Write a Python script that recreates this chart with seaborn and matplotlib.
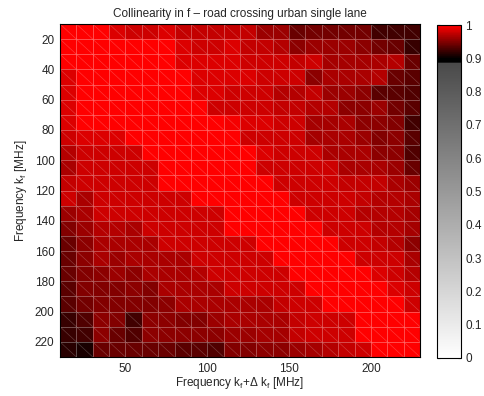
import numpy as np
import matplotlib
matplotlib.use("Agg")
import matplotlib.pyplot as plt
from matplotlib.colors import LinearSegmentedColormap
import seaborn as sns

# lower edge of each cell [MHz]
freq = list(range(10, 230, 10))

# collinearity, one row per k_f (top = 10 MHz), columns = k_f + delta k_f
r0 = [1.00, 1.00, 1.00, .985, .98, .98, .985, .975, .975, .975, .975, .975, .96, .96, .94, .945, .945, .945, .945, .925, .925, .925]
r1 = [1.00, 1.00, 1.00, 1.00, 1.00, 1.00, 1.00, .985, .98, .98, .985, .975, .975, .97, .955, .96, .96, .96, .955, .945, .94, .92]
r2 = [1.00, 1.00, 1.00, 1.00, 1.00, 1.00, 1.00, .985, .985, .985, .985, .98, .98, .98, .975, .98, .963, .963, .963, .965, .97, .94]
r3 = [.985, 1.00, 1.00, 1.00, 1.00, 1.00, 1.00, 1.00, .985, .985, .985, .985, .98, .98, .98, .955, .965, .965, .965, .97, .94, .935]
r4 = [.985, 1.00, 1.00, 1.00, 1.00, 1.00, 1.00, 1.00, .985, .985, .98, .98, .98, .97, .97, .975, .96, .96, .955, .935, .935, .93]
r5 = [.985, 1.00, 1.00, 1.00, 1.00, 1.00, 1.00, 1.00, 1.00, .98, .98, .98, .98, .975, .975, .97, .97, .955, .955, .96, .945, .935]
r6 = [.985, 1.00, 1.00, 1.00, 1.00, 1.00, 1.00, 1.00, 1.00, 1.00, .995, .985, .985, .98, .98, .963, .963, .965, .955, .955, .95, .925]
r7 = [.98, .985, .985, .985, 1.00, 1.00, 1.00, 1.00, 1.00, 1.00, 1.00, .98, .98, .98, .98, .963, .965, .965, .96, .95, .955, .935]
r8 = [.97, .98, .98, .98, .98, 1.00, 1.00, 1.00, 1.00, 1.00, 1.00, 1.00, .985, .98, .98, .98, .965, .965, .965, .955, .955, .93]
r9 = [.965, .98, .98, .98, .98, .98, 1.00, 1.00, 1.00, 1.00, 1.00, 1.00, .98, .98, .98, .98, .98, .965, .965, .965, .96, .94]
r10 = [.975, .98, .98, .98, .98, .98, 1.00, 1.00, 1.00, 1.00, 1.00, 1.00, 1.00, .98, .98, .98, .98, .975, .975, .975, .965, .96]
r11 = [.98, .965, .98, .98, .98, .98, .98, .98, 1.00, 1.00, 1.00, 1.00, 1.00, 1.00, .98, .98, .98, .98, .975, .97, .97, .965]
r12 = [.96, .965, .98, .98, .98, .98, .98, .98, .98, .98, 1.00, 1.00, 1.00, 1.00, 1.00, .98, .98, .98, .97, .97, .97, .963]
r13 = [.95, .96, .97, .97, .965, .98, .98, .98, .98, .98, 1.00, 1.00, 1.00, 1.00, 1.00, 1.00, .98, .98, .98, .97, .97, .963]
r14 = [.94, .955, .965, .965, .965, .965, .98, .98, .98, .98, .98, .98, 1.00, 1.00, 1.00, 1.00, 1.00, .98, .98, .975, .97, .955]
r15 = [.94, .955, .965, .96, .965, .965, .965, .965, .98, .98, .98, .98, .98, 1.00, 1.00, 1.00, 1.00, 1.00, .98, .98, .98, .965]
r16 = [.94, .95, .955, .96, .955, .965, .965, .965, .97, .98, .98, .98, .98, .98, 1.00, 1.00, 1.00, 1.00, 1.00, .985, .98, .97]
r17 = [.935, .95, .95, .95, .955, .95, .965, .965, .965, .965, .98, .98, .98, .98, .98, 1.00, 1.00, 1.00, 1.00, 1.00, .985, .98]
r18 = [.935, .945, .95, .95, .95, .95, .955, .965, .965, .965, .965, .965, .965, .975, .98, .98, 1.00, 1.00, 1.00, 1.00, 1.00, .98]
r19 = [.92, .93, .955, .95, .925, .955, .955, .95, .95, .96, .965, .965, .965, .965, .975, .98, .98, .98, 1.00, 1.00, 1.00, 1.00]
r20 = [.92, .925, .955, .94, .93, .955, .955, .955, .955, .955, .96, .96, .963, .963, .975, .98, .98, .98, 1.00, 1.00, 1.00, 1.00]
r21 = [.915, .91, .94, .94, .94, .94, .94, .935, .935, .93, .95, .95, .955, .955, .96, .963, .97, .975, .98, 1.00, 1.00, 1.00]
rows = [r0, r1, r2, r3, r4, r5, r6, r7, r8, r9, r10,
        r11, r12, r13, r14, r15, r16, r17, r18, r19, r20, r21]

x_ticks = [50, 100, 150, 200]
y_ticks = [20, 40, 60, 80, 100, 120, 140, 160, 180, 200, 220]
cbar_ticks = [0, 0.1, 0.2, 0.3, 0.4, 0.5, 0.6, 0.7, 0.8, 0.9, 1]

sns.set_style("white")
plt.rcParams['font.family'] = ['Liberation Sans', 'DejaVu Sans']
plt.rcParams['mathtext.fontset'] = 'custom'
plt.rcParams['mathtext.rm'] = 'Liberation Sans'
plt.rcParams['mathtext.it'] = 'Liberation Sans:italic'
plt.rcParams['mathtext.sf'] = 'Liberation Sans'

fig = plt.figure(figsize=(4.84, 3.96), dpi=100)
ax = fig.add_axes([60/484, 39/396, 360/484, 333/396])
cax = fig.add_axes([437/484, 38/396, 24/484, 333/396])

# gray ramp up to 0.9, then black -> red
cmap = LinearSegmentedColormap.from_list(
    "grayred",
    [(0.0, (1, 1, 1)), (0.885, (0.29, 0.29, 0.29)), (0.89, (0, 0, 0)),
     (0.9, (0, 0, 0)), (1.0, (1, 0, 0))], N=512)

data = np.array(rows)
sns.heatmap(data, ax=ax, cbar_ax=cax, cmap=cmap, vmin=0, vmax=1,
            linewidths=0.6, linecolor=(1, 1, 1, 0.3),
            xticklabels=False, yticklabels=False,
            cbar_kws={'ticks': cbar_ticks})

# triangle edges of the faceted surface
n = len(freq)
for k in range(-n + 1, n):
    ax.plot([max(0, k), min(n, n + k)], [max(0, -k), min(n, n - k)],
            color=(1, 1, 1), alpha=0.22, lw=0.5)

step = freq[1] - freq[0]
ax.set_xticks([(t - freq[0]) / step for t in x_ticks])
ax.set_xticklabels([str(t) for t in x_ticks])
ax.set_yticks([(t - freq[0]) / step for t in y_ticks])
ax.set_yticklabels([str(t) for t in y_ticks])
ax.tick_params(length=0, labelsize=8.5, pad=4)
for sp in ax.spines.values():
    sp.set_visible(True)
    sp.set_color('black')
    sp.set_linewidth(0.8)

ax.set_xlabel(r'Frequency k$_\mathregular{f}$+$\Delta$ k$_\mathregular{f}$ [MHz]',
              fontsize=8.5, labelpad=0)
ax.set_ylabel(r'Frequency k$_\mathregular{f}$ [MHz]', fontsize=8.5, labelpad=4)
ax.set_title('Collinearity in f \u2013 road crossing urban single lane',
             fontsize=8.5, pad=5)

cb = ax.collections[0].colorbar
cb.outline.set_linewidth(0.8)
cb.outline.set_edgecolor('black')
cb.set_ticklabels(['%g' % t for t in cbar_ticks])
cax.tick_params(axis='y', direction='in', left=True, right=True,
                length=2, labelsize=8.5, pad=3)

fig.savefig("out.png", dpi=100)
